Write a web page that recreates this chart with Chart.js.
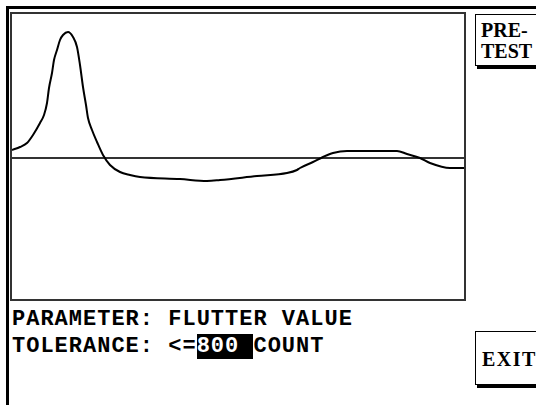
<!DOCTYPE html>
<html>
<head>
<meta charset="utf-8">
<script src="https://cdn.jsdelivr.net/npm/chart.js@4.4.1/dist/chart.umd.min.js"></script>
<style>
    html, body { margin: 0; padding: 0; background: #fff; }
    body { width: 536px; height: 405px; position: relative; overflow: hidden; }
    #frame {
        position: absolute; left: 6px; top: 6px; width: 540px; height: 410px;
        border-top: 3px solid #000; border-left: 3px solid #000;
    }
    #plotBox {
        position: absolute; left: 10px; top: 12px; width: 452px; height: 285px;
        border: 2px solid #333;
    }
    .btn {
        position: absolute; left: 475px; width: 80px;
        border: 1px solid #000; box-shadow: 2px 3px 0 #000; background: #fff;
        font-family: "Liberation Serif", serif; font-weight: bold; font-size: 20px;
        line-height: 21px; color: #000;
    }
    #pretest { top: 14px; height: 52px; padding: 5px 0 0 5px; box-sizing: border-box; }
    #exit { top: 331px; height: 54px; padding: 17px 0 0 6px; box-sizing: border-box; letter-spacing: 1.5px; }
    .info {
        position: absolute; left: 12px;
        font-family: "Liberation Mono", monospace; font-weight: bold; font-size: 22px;
        letter-spacing: 1px; white-space: pre; color: #000; line-height: 27px;
    }
    #info1 { top: 306px; }
    #info2 { top: 333px; }
    .hl { background: #000; color: #fff; }
</style>
</head>
<body>
<div id="frame"></div>
<div id="plotBox"><canvas id="flutterChart" width="452" height="285"></canvas></div>
<div class="btn" id="pretest">PRE-<br>TEST</div>
<div class="btn" id="exit">EXIT</div>
<div class="info" id="info1">PARAMETER: FLUTTER VALUE</div>
<div class="info" id="info2">TOLERANCE: &lt;=<span class="hl">800 </span>COUNT</div>

<script>
// sweep position and flutter reading
const sweepPos = [0, 8, 15, 21, 28, 32, 35, 37, 40, 42, 45, 48, 51, 56, 61, 65, 68, 71, 74, 76,
    80, 85, 91, 98, 108, 118, 128, 168, 195, 208, 245, 275, 285, 288, 301, 311, 321, 335, 385,
    395, 408, 418, 438, 453];
const flutterVals = [8, 11, 15, 23, 35, 43, 55, 70, 85, 98, 108, 118, 123, 126, 121, 111, 93, 71, 53, 40,
    28, 16, 3, -7, -14, -17, -19, -21, -23, -22, -18, -15, -12, -10, -4, 1, 5, 7, 7,
    4, 0, -5, -10, -10];
const baselineLevel = 0;
const sweepRange = [0, 452];
const valueRange = [-141, 144];

function buildChart() {
    const ctx = document.getElementById('flutterChart').getContext('2d');
    const curve = sweepPos.map((x, i) => ({ x: x, y: flutterVals[i] }));
    const baseline = sweepRange.map(x => ({ x: x, y: baselineLevel }));

    new Chart(ctx, {
        type: 'line',
        data: {
            datasets: [{
                label: 'FLUTTER VALUE',
                data: curve,
                borderColor: '#000',
                borderWidth: 2,
                pointRadius: 0,
                tension: 0.35,
                cubicInterpolationMode: 'monotone',
                fill: false
            }, {
                label: 'baseline',
                data: baseline,
                borderColor: '#333',
                borderWidth: 2,
                pointRadius: 0,
                fill: false
            }]
        },
        options: {
            responsive: false,
            animation: false,
            devicePixelRatio: 1,
            layout: { padding: 0 },
            plugins: {
                legend: { display: false },
                tooltip: { enabled: false }
            },
            scales: {
                x: { type: 'linear', display: false, min: sweepRange[0], max: sweepRange[1] },
                y: { display: false, min: valueRange[0], max: valueRange[1] }
            }
        }
    });
}

buildChart();
</script>
</body>
</html>
